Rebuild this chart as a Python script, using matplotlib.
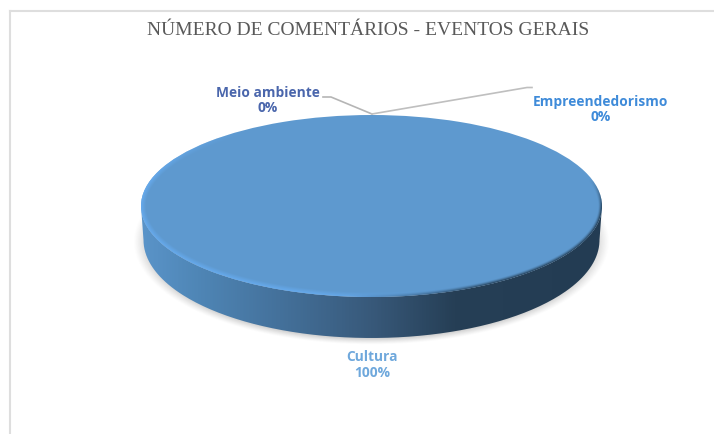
import numpy as np
import matplotlib
matplotlib.use("Agg")
import matplotlib.pyplot as plt
from matplotlib.colors import LinearSegmentedColormap
from matplotlib.patches import PathPatch
from matplotlib.path import Path

W, H = 714, 434
TITLE = "NÚMERO DE COMENTÁRIOS - EVENTOS GERAIS"
categories = ["Cultura", "Meio ambiente", "Empreendedorismo"]
shares = [100, 0, 0]
label_colors = ["#6FA8DC", "#4A66AC", "#3F8BD9"]

CX, CY, RX, RY = 371.5, 206.0, 230.5, 91.0
BASE_CY, BASE_RX, BASE_RY = 240.0, 228.0, 98.0


def ux(px):
    return (px - CX) / RX


def uy(py):
    return (CY - py) / RY


fig = plt.figure(figsize=(W / 100, H / 100), dpi=100, facecolor="white")
ax = fig.add_axes([0, 0, 1, 1])

# Pie drawn on a unit circle, squashed into an ellipse by the axis limits
wedges, _ = ax.pie(shares, radius=1, center=(0, 0), startangle=90,
                   colors=["#5E99CF", "#4A66AC", "#3F8BD9"], counterclock=False,
                   wedgeprops={"linewidth": 0, "zorder": 5})
ax.set_aspect("auto")
ax.axis("off")
extent = (ux(0), ux(W), uy(H), uy(0))
xx, yy = np.meshgrid(np.linspace(ux(0), ux(W), W * 2), np.linspace(uy(0), uy(H), H * 2))

# Base of the disc, in axis units
bx = BASE_RX / RX
by = BASE_RY / RY
b0 = uy(BASE_CY)

# Soft drop shadow under the disc
dist = np.sqrt((xx / (bx * 1.045)) ** 2 + ((yy - b0 + 0.02) / (by * 1.05)) ** 2)
shadow = np.clip((1.0 - dist) / 0.06, 0, 1) ** 1.2 * 0.28
rgba = np.zeros(xx.shape + (4,))
rgba[..., :3] = 0.35
rgba[..., 3] = shadow
ax.imshow(rgba, extent=extent, aspect="auto", zorder=1, interpolation="bilinear")

# Side wall with a horizontal gradient
theta = np.linspace(np.pi, 2 * np.pi, 200)
vx = np.r_[bx * np.cos(theta), np.cos(theta[::-1])]
vy = np.r_[b0 + by * np.sin(theta), np.sin(theta[::-1])]
wall_path = Path(np.c_[vx, vy])
wall_cmap = LinearSegmentedColormap.from_list(
    "wall", [(0, "#5A94C9"), (0.12, "#4F86B6"), (0.3, "#44719B"), (0.5, "#38597A"),
             (0.68, "#263F56"), (1, "#233C53")])
grad = np.linspace(0, 1, 400)[None, :]
wall = ax.imshow(grad, extent=(-1, 1, b0 - by, 1), cmap=wall_cmap, aspect="auto",
                 zorder=2, vmin=0, vmax=1)
wall.set_clip_path(PathPatch(wall_path, transform=ax.transData))

# Top-face bevel measured in pixels from the rim: bright lower left, dark lower right
rad = np.maximum(np.sqrt(xx ** 2 + yy ** 2), 1e-6)
rim_px = (1 - rad) * rad / np.maximum(np.sqrt((xx / RX) ** 2 + (yy / RY) ** 2), 1e-6)
light = np.clip((-xx * 0.8 - yy * 0.45 - 0.05) * 1.7, 0, 1)
dark = np.clip((xx + 0.1) * 1.6, 0, 1) * np.clip((0.3 - yy) * 3, 0, 1)
bevel = np.zeros(xx.shape + (4,))
bevel[..., :3] = np.array([0.40, 0.67, 0.93])
bevel[..., 3] = np.clip(1 - rim_px / 5.0, 0, 1) * light
bev = ax.imshow(bevel, extent=extent, aspect="auto", zorder=6, interpolation="bilinear")
bev.set_clip_path(wedges[0])
shade = np.zeros(xx.shape + (4,))
shade[..., :3] = np.array([0.14, 0.24, 0.33])
shade[..., 3] = np.clip(1 - rim_px / 3.5, 0, 1) ** 1.3 * dark
shd = ax.imshow(shade, extent=extent, aspect="auto", zorder=7, interpolation="bilinear")
shd.set_clip_path(wedges[0])
ax.set_xlim(ux(0), ux(W))
ax.set_ylim(uy(H), uy(0))

# Chart frame
ax.plot([ux(10), ux(10)], [uy(H), uy(11)], color="#DEDEDE", lw=1.5, zorder=8, clip_on=False)
ax.plot([ux(10), ux(W)], [uy(11), uy(11)], color="#DEDEDE", lw=1.5, zorder=8, clip_on=False)

# Leader lines for the two empty slices
ax.plot([ux(323), ux(331), ux(372)], [uy(97), uy(97), uy(114)], color="#B5B5B5", lw=1.2, zorder=8)
ax.plot([ux(372), ux(527), ux(532)], [uy(114), uy(87.5), uy(87.5)], color="#BFBFBF", lw=1.2, zorder=8)

ax.text(ux(368), uy(30.5), TITLE, family="Liberation Serif", fontsize=14.0, color="#595959",
        ha="center", va="center")

label_pos = [(372, 365), (267.5, 100.5), (600.5, 109.5)]
for name, val, col, (px, py) in zip(categories, shares, label_colors, label_pos):
    ax.text(ux(px), uy(py), f"{name}\n{val}%", family="Open Sans", fontweight="bold",
            fontsize=9.9, color=col, ha="center", va="center", linespacing=1.15, zorder=9)

fig.savefig("out.png", dpi=100)
